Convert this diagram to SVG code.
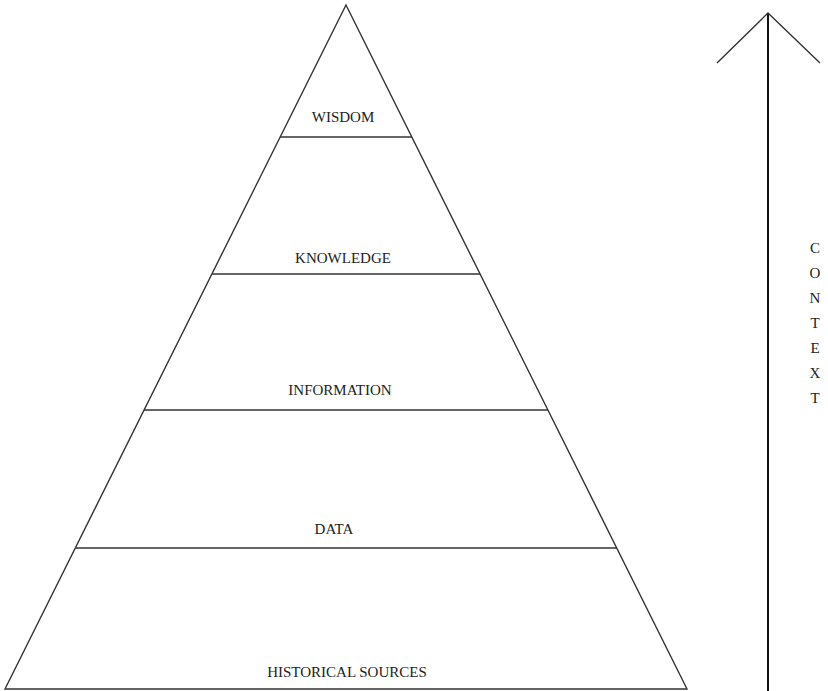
<svg xmlns="http://www.w3.org/2000/svg" width="828" height="691" viewBox="0 0 828 691">
<style>
.ln{stroke:#333;stroke-width:1.4;fill:none}
.t{font-family:"Liberation Serif","Times New Roman",serif;font-size:15px;fill:#222;text-anchor:middle}
</style>
<rect width="828" height="691" fill="#fff"/>
<g id="pyramid">
<polygon class="ln" points="346,5 5,689 687,689"/>
</g>
<g id="wisdom"><line class="ln" x1="280" y1="137" x2="412" y2="137"/><text class="t" x="343" y="122">WISDOM</text></g>
<g id="knowledge"><line class="ln" x1="212" y1="274" x2="480" y2="274"/><text class="t" x="343" y="263">KNOWLEDGE</text></g>
<g id="information"><line class="ln" x1="144" y1="410" x2="548" y2="410"/><text class="t" x="340" y="395">INFORMATION</text></g>
<g id="data"><line class="ln" x1="76" y1="548" x2="617" y2="548"/><text class="t" x="334" y="534">DATA</text></g>
<g id="historical-sources"><text class="t" x="347" y="677">HISTORICAL SOURCES</text></g>
<g id="connectors">
<line x1="768" y1="13" x2="768" y2="691" stroke="#111" stroke-width="2"/>
<polyline class="ln" points="717,63 768,13 820,63"/>
</g>
<g id="context">
<text class="t" x="815" y="253">C</text>
<text class="t" x="815" y="278">O</text>
<text class="t" x="815" y="303">N</text>
<text class="t" x="815" y="328">T</text>
<text class="t" x="815" y="353">E</text>
<text class="t" x="815" y="378">X</text>
<text class="t" x="815" y="403">T</text>
</g>
</svg>
